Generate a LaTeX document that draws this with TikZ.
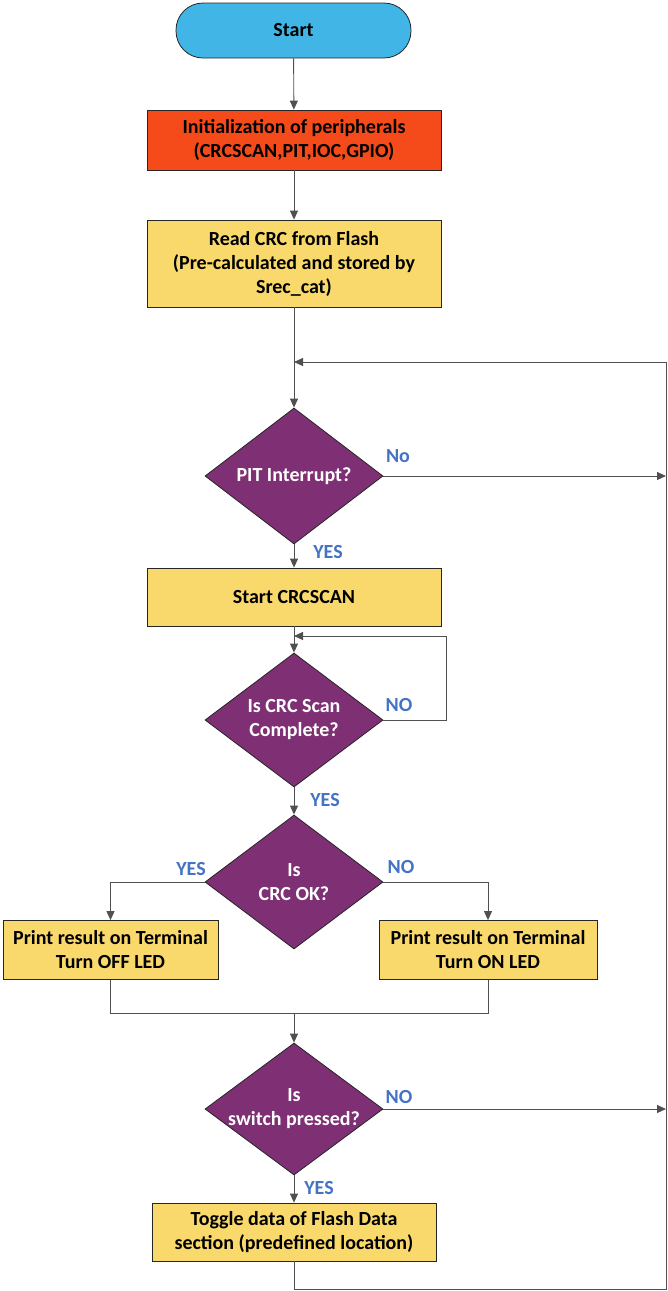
\documentclass[tikz,border=0pt]{standalone}
\usepackage{fontspec}
\setmainfont{Carlito}
\usetikzlibrary{shapes.geometric,arrows.meta}
\definecolor{cstart}{HTML}{41B6E6}
\definecolor{cinit}{HTML}{F54A1A}
\definecolor{cbox}{HTML}{F9D96B}
\definecolor{cdec}{HTML}{7F2F74}
\definecolor{clab}{HTML}{4472C4}
\definecolor{cline}{HTML}{505050}
\begin{document}
\begin{tikzpicture}[x=1pt,y=-1pt,
  font=\fontsize{20}{24}\selectfont\bfseries,
  base/.style={draw=black!85, line width=0.8pt, align=center, inner sep=0pt},
  term/.style={base, fill=cstart, rounded corners=27pt, minimum width=235pt, minimum height=55pt},
  proc/.style={base, fill=cbox, minimum width=294pt},
  dec/.style={base, diamond, fill=cdec, minimum width=178pt, minimum height=134pt},
  dectext/.style={align=center, text=white, inner sep=0pt},
  lab/.style={text=clab, font=\fontsize{20}{24}\selectfont\bfseries},
  conn/.style={draw=cline, line width=0.9pt},
  arr/.style={conn, -{Triangle[length=9pt,width=8pt]}}]
\useasboundingbox (0,0) rectangle (668,1291);
\node[term] (start) at (293.5,30.5) {Start};
\node[proc, fill=cinit, minimum height=60pt] (init) at (294,140) {Initialization of peripherals\\(CRCSCAN,PIT,IOC,GPIO)};
\node[proc, minimum height=87pt] (read) at (294,263.5) {Read CRC from Flash\\(Pre-calculated and stored by\\Srec\_cat)};
\node[dec, minimum height=136pt] (d1) at (294,476) {};
\node[dectext] (t1) at (d1.center) {PIT Interrupt?};
\node[proc, minimum height=58pt] (scan) at (294,597) {Start CRCSCAN};
\node[dec] (d2) at (294,720) {};
\node[dectext] (t2) at (d2.center) {Is CRC Scan\\Complete?};
\node[dec] (d3) at (294,882) {};
\node[dectext] (t3) at (d3.center) {Is\\CRC OK?};
\node[proc, minimum width=215pt, minimum height=59pt] (bl) at (110.5,950) {Print result on Terminal\\Turn OFF LED};
\node[proc, minimum width=218pt, minimum height=59pt] (br) at (488,950) {Print result on Terminal\\Turn ON LED};
\node[dec, minimum height=132pt] (d4) at (294,1109) {};
\node[dectext] (t4) at (d4.center) {Is\\switch pressed?};
\node[proc, minimum width=284pt, minimum height=58pt] (tog) at (294,1232) {Toggle data of Flash Data\\section (predefined location)};

\coordinate (top) at (294,362);
\coordinate (rtop) at (666,362);
\coordinate (rbot) at (666,1289);
\coordinate (bot) at (294,1289);
\coordinate (r1) at (666,476);
\coordinate (r4) at (666,1109);
\coordinate (l2a) at (446,720);
\coordinate (l2b) at (446,636);
\coordinate (j2) at (294,636);
\coordinate (mC) at (294,1013);

\draw[arr] (start) -- (init);
\draw[arr] (init) -- (read);
\draw[arr] (read) -- (d1);
\draw[arr] (d1) -- (scan);
\draw[arr] (scan) -- (d2);
\draw[arr] (d2) -- (d3);
\draw[arr] (d1.east) -- (r1);
\draw[arr] (d4.east) -- (r4);
\draw[arr] (d3.west) -| (bl.north);
\draw[arr] (d3.east) -| (br.north);
\draw[conn] (bl.south) |- (mC) -| (br.south);
\draw[arr] (mC) -- (d4.north);
\draw[arr] (d4) -- (tog);
\draw[arr] (tog.south) -- (bot) -- (rbot) -- (rtop) -- (top);
\draw[arr] (d2.east) -- (l2a) -- (l2b) -- (j2);

\node[lab] (n1) at (398,456) {No};
\node[lab] (y1) at (328,552) {YES};
\node[lab] (n2) at (399,705) {NO};
\node[lab] (y2) at (325,800) {YES};
\node[lab] (y3) at (191,869) {YES};
\node[lab] (n3) at (401,867) {NO};
\node[lab] (n4) at (399,1097) {NO};
\node[lab] (y4) at (319,1188) {YES};
\end{tikzpicture}
\end{document}
